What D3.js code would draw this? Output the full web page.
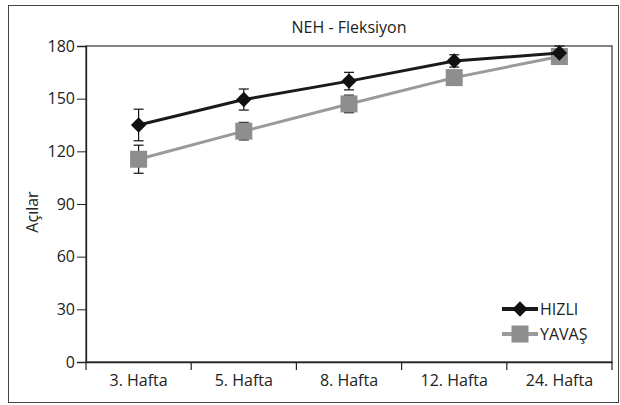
<!DOCTYPE html>
<html><head><meta charset="utf-8">
<script src="https://cdn.jsdelivr.net/npm/d3@7"></script>
<style>body{margin:0;background:#fff}svg text{font-family:"Open Sans",sans-serif;fill:#222}</style>
</head><body><svg id="c" width="620" height="405"></svg>
<script>
const categories = ["3. Hafta","5. Hafta","8. Hafta","12. Hafta","24. Hafta"];
const hizli = [135, 149.5, 160, 171.5, 176];
const hizliErr = [9, 6, 5, 3.5, 4];
const yavas = [115.5, 131.5, 147, 162, 174];
const yavasErr = [8, 5, 5, 2, 2];
const yTicks = [0, 30, 60, 90, 120, 150, 180];
const seriesNames = ["HIZLI", "YAVAŞ"];

const svg = d3.select("#c");
const m = {l: 86, r: 612, t: 46, b: 362};
svg.append("rect").attr("x", 8.5).attr("y", 5.5).attr("width", 610).attr("height", 397)
  .attr("fill", "none").attr("stroke", "#444").attr("stroke-width", 1);
svg.append("rect").attr("x", m.l).attr("y", m.t).attr("width", m.r - m.l).attr("height", m.b - m.t)
  .attr("fill", "none").attr("stroke", "#333").attr("stroke-width", 1.2);

const x = d3.scaleBand().domain(categories).range([m.l, m.r]);
const y = d3.scaleLinear().domain([0, 180]).range([m.b, m.t]);

const yAxis = svg.append("g").attr("transform", `translate(${m.l},0)`)
  .call(d3.axisLeft(y).tickValues(yTicks).tickSize(9).tickPadding(2));
yAxis.select(".domain").attr("stroke", "#222").attr("stroke-width", 1.3);
yAxis.selectAll("line").attr("stroke", "#222");
yAxis.selectAll("text").attr("font-size", 16);

const xAxis = svg.append("g").attr("transform", `translate(0,${m.b})`)
  .call(d3.axisBottom(x).tickSize(0).tickPadding(13));
xAxis.select(".domain").attr("stroke", "#222").attr("stroke-width", 1.3);
xAxis.selectAll("text").attr("font-size", 16);
const bounds = categories.map(c => x(c)).concat([x(categories[categories.length-1]) + x.bandwidth()]);
svg.append("g").selectAll("line").data(bounds).join("line")
  .attr("x1", d => d).attr("x2", d => d).attr("y1", m.b).attr("y2", m.b + 8)
  .attr("stroke", "#222").attr("stroke-width", 1.2);

svg.append("text").attr("x", 349).attr("y", 33).attr("text-anchor", "middle")
  .attr("font-size", 16).text("NEH - Fleksiyon");
svg.append("text").attr("transform", "translate(38,212) rotate(-90)").attr("text-anchor", "middle")
  .attr("font-size", 16).text("Açılar");

const cx = c => x(c) + x.bandwidth() / 2;
const line = d3.line().x((d, i) => cx(categories[i])).y(d => y(d));

function errBars(vals, errs) {
  const g = svg.append("g").attr("stroke", "#111").attr("stroke-width", 1.2);
  vals.forEach((v, i) => {
    const px = cx(categories[i]);
    const top = y(v + errs[i]), bot = y(v - errs[i]);
    g.append("line").attr("x1", px).attr("x2", px).attr("y1", top).attr("y2", bot);
    g.append("line").attr("x1", px - 5).attr("x2", px + 5).attr("y1", top).attr("y2", top);
    g.append("line").attr("x1", px - 5).attr("x2", px + 5).attr("y1", bot).attr("y2", bot);
  });
}
errBars(yavas, yavasErr);
errBars(hizli, hizliErr);

svg.append("path").datum(yavas).attr("d", line).attr("fill", "none").attr("stroke", "#9a9a9a").attr("stroke-width", 3);
svg.append("g").selectAll("rect").data(yavas).join("rect")
  .attr("x", (d, i) => cx(categories[i]) - 8.5).attr("y", d => y(d) - 8.5)
  .attr("width", 17).attr("height", 17).attr("fill", "#8e8e8e");

svg.append("path").datum(hizli).attr("d", line).attr("fill", "none").attr("stroke", "#1a1a1a").attr("stroke-width", 3);
const diamond = d3.symbol().type(d3.symbolDiamond2).size(150);
svg.append("g").selectAll("path").data(hizli).join("path")
  .attr("transform", (d, i) => `translate(${cx(categories[i])},${y(d)})`)
  .attr("d", diamond).attr("fill", "#111");

// legend
const lg = svg.append("g");
const ly = [309, 334];
lg.append("line").attr("x1", 502).attr("x2", 538).attr("y1", ly[0]).attr("y2", ly[0]).attr("stroke", "#1a1a1a").attr("stroke-width", 4);
lg.append("path").attr("transform", `translate(520,${ly[0]})`).attr("d", diamond).attr("fill", "#111");
lg.append("line").attr("x1", 502).attr("x2", 538).attr("y1", ly[1]).attr("y2", ly[1]).attr("stroke", "#9a9a9a").attr("stroke-width", 4);
lg.append("rect").attr("x", 511.5).attr("y", ly[1] - 8.5).attr("width", 17).attr("height", 17).attr("fill", "#8e8e8e");
lg.selectAll("text").data(seriesNames).join("text")
  .attr("x", 540).attr("y", (d, i) => ly[i] + 6).attr("font-size", 16).text(d => d);
</script></body></html>
